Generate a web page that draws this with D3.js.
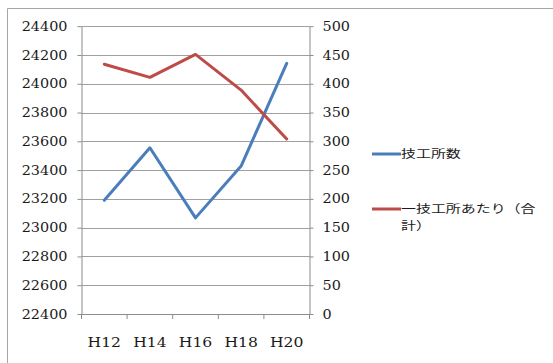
<!DOCTYPE html>
<html>
<head>
<meta charset="utf-8">
<script src="https://cdn.jsdelivr.net/npm/d3@7"></script>
<style>
  html, body { margin: 0; padding: 0; background: #fff; }
  svg { display: block; }
  .serif-text { font-family: "DejaVu Serif", "Liberation Serif", serif; }
</style>
</head>
<body>
<svg id="chart" width="553" height="363"></svg>
<script>
// Years (Heisei era)
const categories = ["H12", "H14", "H16", "H18", "H20"];
// Number of workshops (left axis)
const workshopCount = [23190, 23555, 23068, 23428, 24142];
// Per workshop, total (right axis)
const perWorkshop = [434, 411, 451, 389, 304];
const leftTicks = [22400, 22600, 22800, 23000, 23200, 23400, 23600, 23800, 24000, 24200, 24400];
const rightTicks = [0, 50, 100, 150, 200, 250, 300, 350, 400, 450, 500];
const seriesNames = ["技工所数", "一技工所あたり（合", "計）"];

const svg = d3.select("#chart");
const stretch = 1.2;   // wide text rendering
const sans = "'Noto Sans CJK JP', 'Noto Sans', sans-serif";

const plot = { left: 81.5, right: 309.5, top: 26.2, bottom: 314 };

const x = d3.scaleBand().domain(categories).range([plot.left, plot.right]);
const yL = d3.scaleLinear().domain([22400, 24400]).range([plot.bottom, plot.top]);
const yR = d3.scaleLinear().domain([0, 500]).range([plot.bottom, plot.top]);

// Outer frame (top and left edges)
svg.append("path")
  .attr("d", "M7.5,363 V8.5 H553")
  .attr("fill", "none").attr("stroke", "#a6a6a6").attr("stroke-width", 1);

// Horizontal gridlines
svg.append("g").selectAll("line").data(leftTicks.slice(1)).join("line")
  .attr("x1", plot.left).attr("x2", plot.right)
  .attr("y1", d => Math.round(yL(d)) + 0.5).attr("y2", d => Math.round(yL(d)) + 0.5)
  .attr("stroke", "#a0a0a0").attr("stroke-width", 1);

const axisColor = "#8c8c8c";

// Left axis
const gL = svg.append("g").attr("transform", `translate(${plot.left},0)`)
  .call(d3.axisLeft(yL).tickValues(leftTicks).tickSize(4).tickSizeOuter(0).tickFormat(d3.format("d")));
// Right axis
const gR = svg.append("g").attr("transform", `translate(${plot.right},0)`)
  .call(d3.axisRight(yR).tickValues(rightTicks).tickSize(4).tickSizeOuter(0).tickFormat(d3.format("d")));
// Bottom axis
const gB = svg.append("g").attr("transform", `translate(0,${plot.bottom})`)
  .call(d3.axisBottom(x).tickSize(0).tickSizeOuter(0));

[gL, gR, gB].forEach(g => {
  g.attr("font-family", null).attr("font-size", null);
  g.select(".domain").attr("stroke", axisColor);
  g.selectAll(".tick line").attr("stroke", axisColor);
  g.selectAll("text")
    .attr("class", "serif-text")
    .attr("fill", "#1a1a1a")
    .style("font-size", "12px");
});

gL.selectAll(".tick text")
  .attr("x", null).attr("dy", null)
  .attr("text-anchor", "end").attr("dominant-baseline", "central")
  .attr("transform", `translate(-14,0) scale(${stretch},1)`);

gR.selectAll(".tick text")
  .attr("x", null).attr("dy", null)
  .attr("text-anchor", "start").attr("dominant-baseline", "central")
  .attr("transform", `translate(13,0) scale(${stretch},1)`);

// Category boundary ticks on the bottom axis
const bounds = categories.map(c => x(c)).concat([plot.right]);
svg.append("g").selectAll("line").data(bounds).join("line")
  .attr("x1", d => d).attr("x2", d => d)
  .attr("y1", plot.bottom).attr("y2", plot.bottom + 5)
  .attr("stroke", axisColor);

gB.selectAll(".tick text")
  .attr("y", null).attr("dy", null)
  .attr("text-anchor", "middle").attr("dominant-baseline", "central")
  .style("font-size", "13px")
  .attr("transform", `translate(0,28) scale(${stretch},1)`);

// Series lines
const cx = d => x(d) + x.bandwidth() / 2;
const lineL = d3.line().x((d, i) => cx(categories[i])).y(d => yL(d));
const lineR = d3.line().x((d, i) => cx(categories[i])).y(d => yR(d));

svg.append("path").datum(workshopCount)
  .attr("d", lineL).attr("fill", "none")
  .attr("stroke", "#4a7ebb").attr("stroke-width", 3)
  .attr("stroke-linejoin", "round").attr("stroke-linecap", "round");

svg.append("path").datum(perWorkshop)
  .attr("d", lineR).attr("fill", "none")
  .attr("stroke", "#be4b48").attr("stroke-width", 3)
  .attr("stroke-linejoin", "round").attr("stroke-linecap", "round");

// Legend
const legend = svg.append("g");
const legendItems = [
  { color: "#4a7ebb", y: 154, lines: [seriesNames[0]] },
  { color: "#be4b48", y: 209, lines: [seriesNames[1], seriesNames[2]] }
];
legendItems.forEach(item => {
  legend.append("line")
    .attr("x1", 372).attr("x2", 401)
    .attr("y1", item.y).attr("y2", item.y)
    .attr("stroke", item.color).attr("stroke-width", 3);
  const t = legend.append("text")
    .attr("transform", `translate(401,${item.y}) scale(1.3,1)`)
    .style("font-family", sans).style("font-size", "11.5px")
    .attr("fill", "#1a1a1a");
  item.lines.forEach((s, i) => {
    t.append("tspan")
      .attr("x", 0).attr("y", i * 16.5)
      .attr("dy", "0.36em")
      .text(s);
  });
});
</script>
</body>
</html>
